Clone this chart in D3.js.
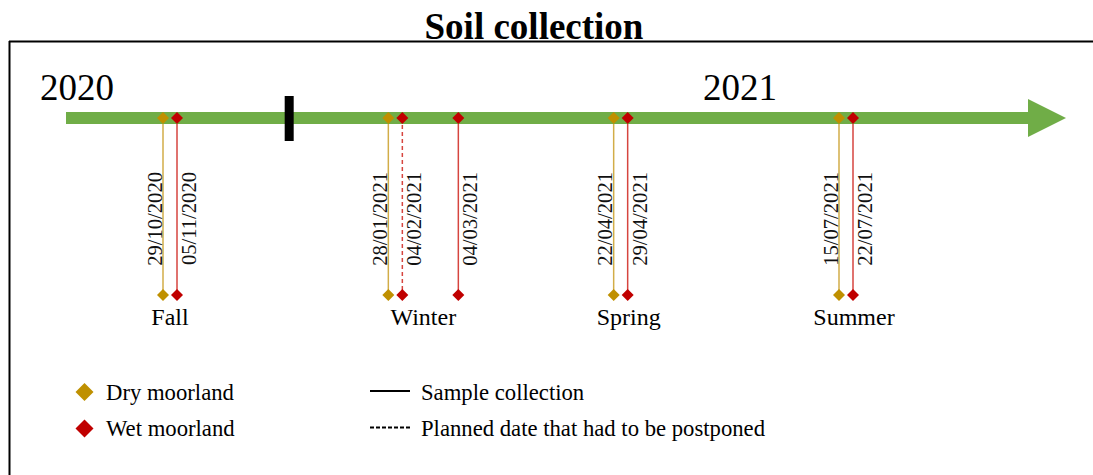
<!DOCTYPE html>
<html>
<head>
<meta charset="utf-8">
<script src="https://cdn.jsdelivr.net/npm/d3@7"></script>
<style>
	body { margin: 0; background: #fff; }
	svg { display: block; font-family: "Liberation Serif", "Times New Roman", serif; }
</style>
</head>
<body>
<div id="chart"></div>
<script>
// seasons and collection dates
var seasons = ['Fall', 'Winter', 'Spring', 'Summer'];
var years = ['2020', '2021'];

var dryDates = ['29/10/2020', '28/01/2021', '22/04/2021', '15/07/2021'];
var drySeasons = ['Fall', 'Winter', 'Spring', 'Summer'];

var wetDates = ['05/11/2020', '04/02/2021', '04/03/2021', '29/04/2021', '22/07/2021'];
var wetSeasons = ['Fall', 'Winter', 'Winter', 'Spring', 'Summer'];

// planned dates that were postponed
var postponedDates = ['04/02/2021'];

var markerLabels = ['Dry moorland', 'Wet moorland'];
var lineLabels = ['Sample collection', 'Planned date that had to be postponed'];

drawTimeline();

// timeline init
function drawTimeline() {
	var width = 1093;
	var height = 475;
	var barY = 118;
	var lowY = 295;

	var colors = {
		green: '#70ad47',
		dry: '#bf9000',
		wet: '#c00000',
		dryLine: '#d2ad48',
		wetLine: '#d6453f'
	};

	var parseDate = d3.timeParse('%d/%m/%Y');

	// one slot per season, days inside a season at 2px per day
	var seasonScale = d3.scalePoint()
		.domain(seasons)
		.range([163, 839]);

	var dayScale = d3.scaleLinear()
		.domain([0, 7])
		.range([0, 14]);

	var seasonStart = {};
	dryDates.forEach(function(d, i) {
		seasonStart[drySeasons[i]] = parseDate(d);
	});

	function xPos(date, season) {
		var days = d3.timeDay.count(seasonStart[season], parseDate(date));
		return seasonScale(season) + dayScale(days);
	}

	var events = [];
	dryDates.forEach(function(d, i) {
		events.push({ date: d, season: drySeasons[i], type: 'dry' });
	});
	wetDates.forEach(function(d, i) {
		events.push({ date: d, season: wetSeasons[i], type: 'wet' });
	});
	events.forEach(function(e) {
		e.x = xPos(e.date, e.season);
		e.postponed = postponedDates.indexOf(e.date) > -1;
	});

	var svg = d3.select('#chart')
		.append('svg')
		.attr('width', width)
		.attr('height', height);

	// frame
	svg.append('line')
		.attr('x1', 9).attr('x2', width)
		.attr('y1', 41.5).attr('y2', 41.5)
		.attr('stroke', '#000').attr('stroke-width', 2);

	svg.append('line')
		.attr('x1', 9.5).attr('x2', 9.5)
		.attr('y1', 41).attr('y2', height)
		.attr('stroke', '#000').attr('stroke-width', 2);

	// title
	svg.append('text')
		.attr('x', 534)
		.attr('y', 39)
		.attr('text-anchor', 'middle')
		.attr('font-size', 37)
		.attr('font-weight', 'bold')
		.text('Soil collection');

	// year labels
	svg.selectAll('.year')
		.data(years)
		.enter()
		.append('text')
		.attr('class', 'year')
		.attr('x', function(d, i) {
			return i === 0 ? 40 : 703;
		})
		.attr('y', 100)
		.attr('font-size', 37)
		.text(function(d) {
			return d;
		});

	var diamond = function(rx, ry) {
		return 'M0,' + (-ry) + 'L' + rx + ',0L0,' + ry + 'L' + (-rx) + ',0Z';
	};

	// stems
	svg.selectAll('.stem')
		.data(events)
		.enter()
		.append('line')
		.attr('class', 'stem')
		.attr('x1', function(d) { return d.x; })
		.attr('x2', function(d) { return d.x; })
		.attr('y1', barY)
		.attr('y2', lowY)
		.attr('stroke', function(d) {
			return d.type === 'dry' ? colors.dryLine : colors.wetLine;
		})
		.attr('stroke-width', 1.5)
		.attr('stroke-dasharray', function(d) {
			return d.postponed ? '4,3' : null;
		});

	// timeline arrow
	svg.append('path')
		.attr('d', 'M66,112H1028V99L1066,118L1028,137V124H66Z')
		.attr('fill', colors.green);

	// year divider between fall and winter
	var divX = seasonScale('Fall') + seasonScale.step() * 0.56;
	svg.append('rect')
		.attr('x', divX - 4.5)
		.attr('y', 96)
		.attr('width', 9)
		.attr('height', 45)
		.attr('fill', '#000');

	// diamonds on the bar and at the bottom of the stems
	[barY, lowY].forEach(function(y) {
		svg.selectAll(null)
			.data(events)
			.enter()
			.append('path')
			.attr('d', diamond(6, 6))
			.attr('transform', function(d) {
				return 'translate(' + d.x + ',' + y + ')';
			})
			.attr('fill', function(d) {
				return d.type === 'dry' ? colors.dry : colors.wet;
			});
	});

	// date labels
	svg.selectAll('.date')
		.data(events)
		.enter()
		.append('text')
		.attr('class', 'date')
		.attr('text-anchor', 'end')
		.attr('font-size', 20.6)
		.attr('fill', '#111')
		.attr('transform', function(d) {
			var tx = d.type === 'dry' ? d.x - 1.5 : d.x + 19;
			return 'translate(' + tx + ',172) rotate(-90)';
		})
		.text(function(d) {
			return d.date;
		});

	// season labels
	svg.selectAll('.season')
		.data(seasons)
		.enter()
		.append('text')
		.attr('class', 'season')
		.attr('x', function(s) {
			var xs = events.filter(function(e) { return e.season === s; })
				.map(function(e) { return e.x; });
			return (d3.min(xs) + d3.max(xs)) / 2 + (s === 'Spring' || s === 'Summer' ? 8 : 0);
		})
		.attr('y', 325)
		.attr('text-anchor', 'middle')
		.attr('font-size', 24)
		.text(function(s) {
			return s;
		});

	// legend
	var legendY = [392, 428.5];

	svg.selectAll('.legend-marker')
		.data(markerLabels)
		.enter()
		.append('path')
		.attr('d', diamond(9, 9))
		.attr('transform', function(d, i) {
			return 'translate(84.5,' + legendY[i] + ')';
		})
		.attr('fill', function(d, i) {
			return i === 0 ? colors.dry : colors.wet;
		});

	svg.selectAll('.legend-marker-text')
		.data(markerLabels)
		.enter()
		.append('text')
		.attr('x', 106)
		.attr('y', function(d, i) {
			return legendY[i] + 7.5;
		})
		.attr('font-size', 22.7)
		.text(function(d) {
			return d;
		});

	svg.selectAll('.legend-line')
		.data(lineLabels)
		.enter()
		.append('line')
		.attr('x1', 370)
		.attr('x2', 410)
		.attr('y1', function(d, i) { return legendY[i] - 1; })
		.attr('y2', function(d, i) { return legendY[i] - 1; })
		.attr('stroke', '#000')
		.attr('stroke-width', 2)
		.attr('stroke-dasharray', function(d, i) {
			return i === 1 ? '4,2' : null;
		});

	svg.selectAll('.legend-line-text')
		.data(lineLabels)
		.enter()
		.append('text')
		.attr('x', 421)
		.attr('y', function(d, i) {
			return legendY[i] + 7.5;
		})
		.attr('font-size', 22.7)
		.text(function(d) {
			return d;
		});
}
</script>
</body>
</html>
